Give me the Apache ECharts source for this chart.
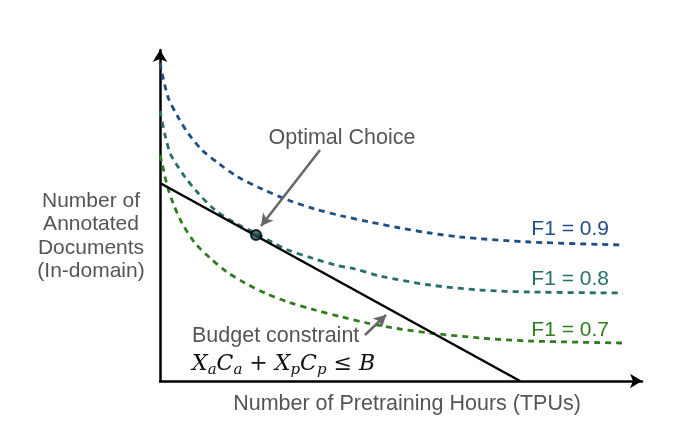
<!DOCTYPE html>
<html><head><meta charset="utf-8">
<script src="https://cdn.jsdelivr.net/npm/echarts@6/dist/echarts.min.js"></script>
<style>html,body{margin:0;padding:0;background:#fff}#c{width:680px;height:432px}</style>
</head><body><div id="c"></div>
<script>
// Indifference curves (x = pretraining hours, y = annotated documents), arbitrary units
const curve09 = [[0,318],[8,284],[18,264],[28,248],[42,231],[58,218],[78,204],[102,192],[128,181],[155,172],[182,165],[210,159],[240,153],[270,148],[300,144],[370,139],[463,136]];
const curve08 = [[0,270],[5,246],[10,228],[15,219],[25,204],[38,188],[55,171],[75,158],[95,148],[112,139],[128,131],[152,123],[175,116],[195,112],[220,105],[270,96],[320,91],[370,89],[463,88]];
const curve07 = [[0,226],[2,218],[7,196],[13,178],[22,158],[35,138],[50,123],[67,109],[85,98],[105,88],[128,79],[155,71],[182,64],[207,58],[240,52],[270,48],[320,43],[370,40],[463,38]];
const budget = [[0,198],[360,0]];
const optimal = [[96,146]];
const curveNames = ['F1 = 0.9','F1 = 0.8','F1 = 0.7'];
const curveColors = ['#1f4e85','#27706a','#2f7d1e'];
const xAxisMax = 482, yAxisMax = 331;

const font = '"Liberation Sans", Arial, Helvetica, sans-serif';
const chart = echarts.init(document.getElementById('c'));
const curves = [curve09, curve08, curve07];
const series = curves.map((d,i)=>({
  type:'line', data:d, smooth:0.3, symbol:'none', z:2,
  lineStyle:{color:curveColors[i], width:2.8, type:[6,5]}
}));
series.push({
  type:'line', data:budget, symbol:'none', z:3,
  lineStyle:{color:'#000', width:2.5},
  markLine:{
    silent:true, symbol:['none','arrow'], symbolSize:[10,12],
    lineStyle:{color:'#666', width:2.5, type:'solid'}, label:{show:false},
    data:[
      [{coord:[160,231]},{coord:[101,155]}],
      [{coord:[205,46]},{coord:[226,66]}]
    ]
  }
});
series.push({
  type:'scatter', data:optimal, symbol:'circle', symbolSize:10, z:5,
  itemStyle:{color:'#1d4b48', borderColor:'#000', borderWidth:2.2}
});
const serif = '"DejaVu Serif", "Liberation Serif", serif';
chart.setOption({
  animation:false,
  grid:{left:160, right:38, top:50, bottom:51},
  xAxis:{type:'value', min:0, max:xAxisMax, splitLine:{show:false}, axisTick:{show:false}, axisLabel:{show:false},
    axisLine:{lineStyle:{color:'#000', width:2.5}, symbol:['none','arrow'], symbolSize:[11,12]}},
  yAxis:{type:'value', min:0, max:yAxisMax, splitLine:{show:false}, axisTick:{show:false}, axisLabel:{show:false},
    axisLine:{lineStyle:{color:'#000', width:2.5}, symbol:['none','arrow'], symbolSize:[11,12]}},
  series:series,
  graphic:[
    {type:'text', x:609, y:229, style:{text:curveNames[0], fill:curveColors[0], font:'21px '+font, textAlign:'right', textVerticalAlign:'middle'}},
    {type:'text', x:609, y:279, style:{text:curveNames[1], fill:curveColors[1], font:'21px '+font, textAlign:'right', textVerticalAlign:'middle'}},
    {type:'text', x:609, y:330, style:{text:curveNames[2], fill:curveColors[2], font:'21px '+font, textAlign:'right', textVerticalAlign:'middle'}},
    {type:'text', x:342, y:138, style:{text:'Optimal Choice', fill:'#555', font:'21.5px '+font, textAlign:'center', textVerticalAlign:'middle'}},
    {type:'text', x:91, y:236, style:{text:'Number of\nAnnotated\nDocuments\n(In-domain)', fill:'#555', font:'21px '+font, textAlign:'center', textVerticalAlign:'middle', lineHeight:23.5}},
    {type:'text', x:407, y:404, style:{text:'Number of Pretraining Hours (TPUs)', fill:'#555', font:'21.5px '+font, textAlign:'center', textVerticalAlign:'middle'}},
    {type:'text', x:192, y:336, style:{text:'Budget constraint', fill:'#555', font:'21.5px '+font, textAlign:'left', textVerticalAlign:'middle'}},
    {type:'text', x:192, y:364, style:{
      text:'{i|X}{s|a}{i|C}{s|a}{n| + }{i|X}{s|p}{i|C}{s|p}{n| ≤ }{i|B}',
      textAlign:'left', textVerticalAlign:'middle',
      rich:{
        i:{fontFamily:serif, fontStyle:'italic', fontSize:22, fill:'#111', lineHeight:28, verticalAlign:'middle'},
        s:{fontFamily:serif, fontStyle:'italic', fontSize:15, fill:'#111', lineHeight:28, verticalAlign:'bottom'},
        n:{fontFamily:serif, fontSize:22, fill:'#111', lineHeight:28, verticalAlign:'middle'}
      }}}
  ]
});
</script></body></html>
